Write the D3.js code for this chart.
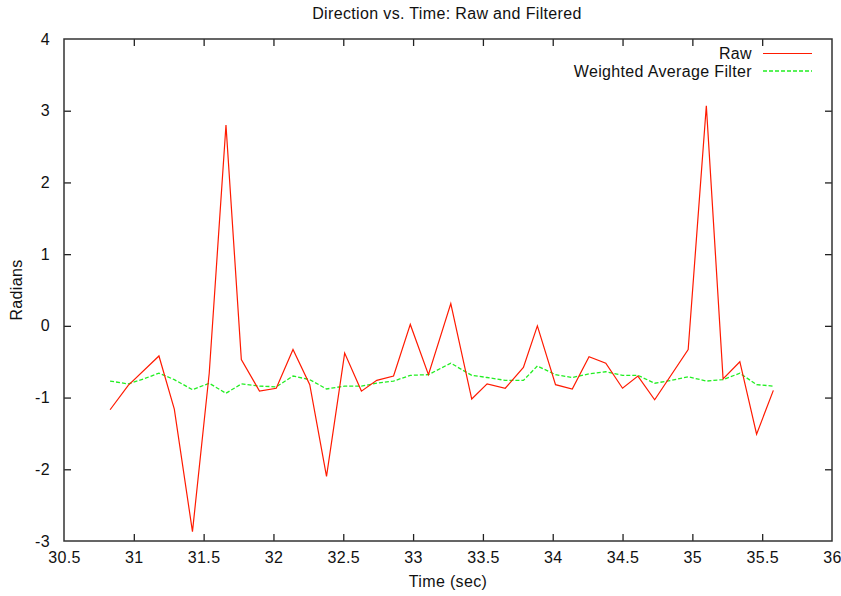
<!DOCTYPE html>
<html>
<head>
<meta charset="utf-8">
<script src="https://cdn.jsdelivr.net/npm/d3@7"></script>
<style>
  html, body { margin: 0; padding: 0; background: #fff; }
  text { font-family: "Liberation Sans", Arial, Helvetica, sans-serif; fill: #111; letter-spacing: 0.35px; }
</style>
</head>
<body>
<svg id="chart" width="841" height="596"></svg>
<script>
const title = "Direction vs. Time: Raw and Filtered";
const xLabel = "Time (sec)";
const yLabel = "Radians";
const seriesNames = ["Raw", "Weighted Average Filter"];

const xTicks = [30.5, 31, 31.5, 32, 32.5, 33, 33.5, 34, 34.5, 35, 35.5, 36];
const yTicks = [-3, -2, -1, 0, 1, 2, 3, 4];

const rawTime = [30.83, 30.96, 31.18, 31.29, 31.42, 31.54, 31.66, 31.77, 31.90, 32.02,
  32.14, 32.26, 32.38, 32.51, 32.63, 32.74, 32.86, 32.98, 33.11, 33.27,
  33.42, 33.53, 33.66, 33.79, 33.89, 34.02, 34.14, 34.26, 34.38, 34.50,
  34.61, 34.73, 34.97, 35.10, 35.22, 35.34, 35.46, 35.58];
const rawValue = [-1.17, -0.83, -0.42, -1.16, -2.87, -0.66, 2.80, -0.47, -0.91, -0.87,
  -0.33, -0.82, -2.10, -0.38, -0.91, -0.76, -0.70, 0.02, -0.68, 0.31,
  -1.02, -0.81, -0.87, -0.58, 0.00, -0.82, -0.88, -0.43, -0.52, -0.87,
  -0.70, -1.03, -0.33, 3.07, -0.74, -0.50, -1.51, -0.90];

const filtTime = [30.83, 30.96, 31.07, 31.18, 31.29, 31.42, 31.54, 31.66, 31.77, 31.90,
  32.02, 32.14, 32.26, 32.38, 32.51, 32.63, 32.74, 32.86, 32.98, 33.11,
  33.27, 33.42, 33.53, 33.66, 33.79, 33.89, 34.02, 34.14, 34.26, 34.38,
  34.50, 34.61, 34.73, 34.85, 34.97, 35.10, 35.22, 35.34, 35.46, 35.58];
const filtValue = [-0.77, -0.81, -0.74, -0.66, -0.75, -0.89, -0.80, -0.94, -0.81, -0.84,
  -0.85, -0.70, -0.75, -0.88, -0.84, -0.84, -0.80, -0.77, -0.69, -0.68,
  -0.52, -0.69, -0.72, -0.76, -0.76, -0.56, -0.68, -0.72, -0.67, -0.64,
  -0.69, -0.69, -0.80, -0.76, -0.71, -0.77, -0.75, -0.66, -0.82, -0.84];

const colors = ["#ff1a00", "#22ee22"];

const svg = d3.select("#chart");
const m = {left: 64, right: 832, top: 39, bottom: 541};

const x = d3.scaleLinear().domain([30.5, 36]).range([m.left, m.right]);
const y = d3.scaleLinear().domain([-3, 4]).range([m.bottom, m.top]);

const tickLen = 7;
const fontSize = 16;
const fmt = d => String(d); // plain hyphen-minus like the original

// axes with inward ticks
const axB = svg.append("g").attr("transform", `translate(0,${m.bottom})`)
  .call(d3.axisBottom(x).tickValues(xTicks).tickFormat(fmt).tickSizeInner(-tickLen).tickSizeOuter(0).tickPadding(11));
const axT = svg.append("g").attr("transform", `translate(0,${m.top})`)
  .call(d3.axisTop(x).tickValues(xTicks.slice(1, -1)).tickFormat("").tickSizeInner(-tickLen).tickSizeOuter(0));
const axL = svg.append("g").attr("transform", `translate(${m.left},0)`)
  .call(d3.axisLeft(y).tickValues(yTicks).tickFormat(fmt).tickSizeInner(-tickLen).tickSizeOuter(0).tickPadding(14));
const axR = svg.append("g").attr("transform", `translate(${m.right},0)`)
  .call(d3.axisRight(y).tickValues(yTicks.slice(1, -1)).tickFormat("").tickSizeInner(-tickLen).tickSizeOuter(0));

[axB, axT, axL, axR].forEach(g => {
  g.select(".domain").remove();
  g.selectAll(".tick line").attr("stroke", "#222").attr("stroke-width", 1.3);
  g.selectAll(".tick text").attr("font-size", fontSize).attr("font-family", "Liberation Sans, Arial, sans-serif").attr("fill", "#111");
});
axB.selectAll(".tick").filter(d => d === 30.5 || d === 36).select("line").remove();
axL.selectAll(".tick").filter(d => d === -3 || d === 4).select("line").remove();

// border
svg.append("rect")
  .attr("x", m.left).attr("y", m.top)
  .attr("width", m.right - m.left).attr("height", m.bottom - m.top)
  .attr("fill", "none").attr("stroke", "#333").attr("stroke-width", 1.5);

// series
const rawData = rawTime.map((t, i) => [t, rawValue[i]]);
const filtData = filtTime.map((t, i) => [t, filtValue[i]]);
const line = d3.line().x(d => x(d[0])).y(d => y(d[1]));

svg.append("path").datum(filtData).attr("d", line)
  .attr("fill", "none").attr("stroke", colors[1]).attr("stroke-width", 1.3)
  .attr("stroke-dasharray", "4,2");
svg.append("path").datum(rawData).attr("d", line)
  .attr("fill", "none").attr("stroke", colors[0]).attr("stroke-width", 1.2);

// title and labels
svg.append("text").attr("x", 447).attr("y", 19).attr("text-anchor", "middle")
  .attr("font-size", fontSize).text(title);
svg.append("text").attr("x", 448).attr("y", 587).attr("text-anchor", "middle")
  .attr("font-size", fontSize).text(xLabel);
svg.append("text").attr("transform", "translate(22,290) rotate(-90)")
  .attr("text-anchor", "middle").attr("font-size", fontSize).text(yLabel);

// legend
const legY = [53.5, 71];
seriesNames.forEach((name, i) => {
  svg.append("text").attr("x", 752).attr("y", legY[i] + 5.5).attr("text-anchor", "end")
    .attr("font-size", fontSize).text(name);
  svg.append("line").attr("x1", 763).attr("x2", 812).attr("y1", legY[i]).attr("y2", legY[i])
    .attr("stroke", colors[i]).attr("stroke-width", i === 0 ? 1.2 : 1.3)
    .attr("stroke-dasharray", i === 0 ? null : "4,2");
});
</script>
</body>
</html>
